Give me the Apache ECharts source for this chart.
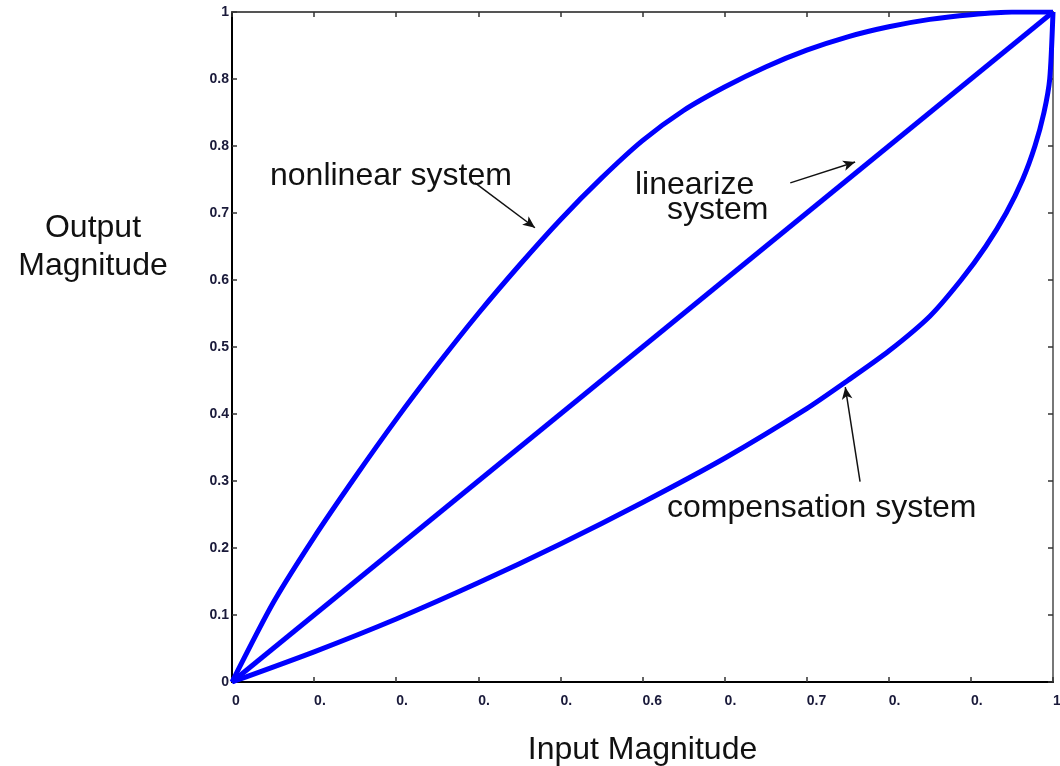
<!DOCTYPE html>
<html>
<head>
<meta charset="utf-8">
<script src="https://cdn.jsdelivr.net/npm/echarts@6/dist/echarts.min.js"></script>
<style>html,body{margin:0;padding:0;background:#fff;overflow:hidden}#c{width:1060px;height:766px}</style>
</head>
<body>
<div id="c"></div>
<script>
// Tick labels as printed in the reference (truncated as in the original)
const xTickLabels = ["0","0.","0.","0.","0.","0.6","0.","0.7","0.","0.","1"];
const yTickLabels = ["0","0.1","0.2","0.3","0.4","0.5","0.6","0.7","0.8","0.8","1"];

// Series values: [input, output]
const nonlinearSystem = [[0,0],[0.05,0.118],[0.10,0.216],[0.15,0.306],[0.20,0.392],[0.25,0.473],[0.30,0.550],[0.35,0.622],[0.40,0.690],[0.45,0.752],[0.50,0.808],[0.55,0.853],[0.60,0.888],[0.65,0.918],[0.70,0.943],[0.75,0.963],[0.80,0.978],[0.85,0.989],[0.90,0.996],[0.95,1.0],[1,1]];
const linearizeSystem = [[0,0],[1,1]];
const compensationSystem = [[0,0],[0.1,0.045],[0.2,0.094],[0.3,0.148],[0.4,0.206],[0.5,0.268],[0.6,0.334],[0.7,0.408],[0.75,0.45],[0.8,0.494],[0.85,0.546],[0.888,0.6],[0.918,0.65],[0.943,0.7],[0.963,0.75],[0.978,0.8],[0.989,0.85],[0.996,0.9],[1,1]];

// Annotation arrows (from text to curve) in data coordinates
const arrowNonlinear = [[0.296,0.745],[0.369,0.678]];
const arrowLinearize = [[0.680,0.745],[0.759,0.776]];
const arrowCompensation = [[0.765,0.299],[0.747,0.440]];

const chart = echarts.init(document.getElementById('c'), null, {renderer:'canvas'});
const tickFont = {fontFamily:'Liberation Sans, Arial, sans-serif', fontWeight:'bold', fontSize:14, color:'#1a1a3a'};
const bigFont = 'Liberation Sans, Arial, sans-serif';
const blue = '#0000ff';
const lineSeries = (name, data, smooth) => ({
  name, type:'line', data, xAxisIndex:0, yAxisIndex:0,
  showSymbol:false, smooth: smooth ? 0.25 : false,
  lineStyle:{color:blue, width:5}, itemStyle:{color:blue}, animation:false, silent:true
});
const arrowLine = (pts) => [{coord:pts[0]},{coord:pts[1]}];

chart.setOption({
  backgroundColor:'#fff',
  animation:false,
  grid:{left:232, right:7, top:12, bottom:84, containLabel:false, outerBoundsMode:'none'},
  xAxis:[{
    type:'value', min:0, max:1, interval:0.1, position:'bottom',
    name:'Input Magnitude', nameLocation:'middle', nameGap:52,
    nameTextStyle:{fontFamily:bigFont, fontSize:32, color:'#111'},
    axisLine:{show:true, onZero:false, lineStyle:{color:'#000', width:2}},
    axisTick:{show:true, inside:true, length:5, lineStyle:{color:'#333', width:1.5}},
    axisLabel:{show:true, margin:12, align:'left', ...tickFont,
      formatter:(v)=>xTickLabels[Math.round(v*10)]},
    splitLine:{show:false}
  },{
    type:'value', min:0, max:1, interval:0.1, position:'top',
    axisLine:{show:true, onZero:false, lineStyle:{color:'#555', width:2}},
    axisTick:{show:true, inside:true, length:5, lineStyle:{color:'#333', width:1.5}},
    axisLabel:{show:false}, splitLine:{show:false}
  }],
  yAxis:[{
    type:'value', min:0, max:1, interval:0.1, position:'left',
    axisLine:{show:true, onZero:false, lineStyle:{color:'#000', width:2}},
    axisTick:{show:true, inside:true, length:5, lineStyle:{color:'#333', width:1.5}},
    axisLabel:{show:true, margin:3, ...tickFont,
      formatter:(v)=>yTickLabels[Math.round(v*10)]},
    splitLine:{show:false}
  },{
    type:'value', min:0, max:1, interval:0.1, position:'right',
    axisLine:{show:true, onZero:false, lineStyle:{color:'#777', width:2}},
    axisTick:{show:true, inside:true, length:5, lineStyle:{color:'#333', width:1.5}},
    axisLabel:{show:false}, splitLine:{show:false}
  }],
  series:[
    lineSeries('nonlinear system', nonlinearSystem, true),
    lineSeries('linearize system', linearizeSystem, false),
    Object.assign(lineSeries('compensation system', compensationSystem, true), {
      markLine:{
        silent:true, animation:false, symbol:['none','arrow'], symbolSize:[8,12],
        lineStyle:{color:'#111', width:1.5, type:'solid'}, label:{show:false},
        data:[arrowLine(arrowNonlinear), arrowLine(arrowLinearize), arrowLine(arrowCompensation)]
      }
    })
  ],
  graphic:[
    {type:'text', x:93, y:247, style:{text:'Output\nMagnitude', font:'32px '+bigFont, fill:'#111', align:'center', verticalAlign:'middle', lineHeight:38}},
    {type:'text', left:270, top:160, style:{text:'nonlinear system', font:'32px '+bigFont, fill:'#111'}},
    {type:'text', left:635, top:169, style:{text:'linearize', font:'32px '+bigFont, fill:'#111'}},
    {type:'text', left:667, top:194, style:{text:'system', font:'32px '+bigFont, fill:'#111'}},
    {type:'text', left:667, top:492, style:{text:'compensation system', font:'32px '+bigFont, fill:'#111'}}
  ]
});
</script>
</body>
</html>
